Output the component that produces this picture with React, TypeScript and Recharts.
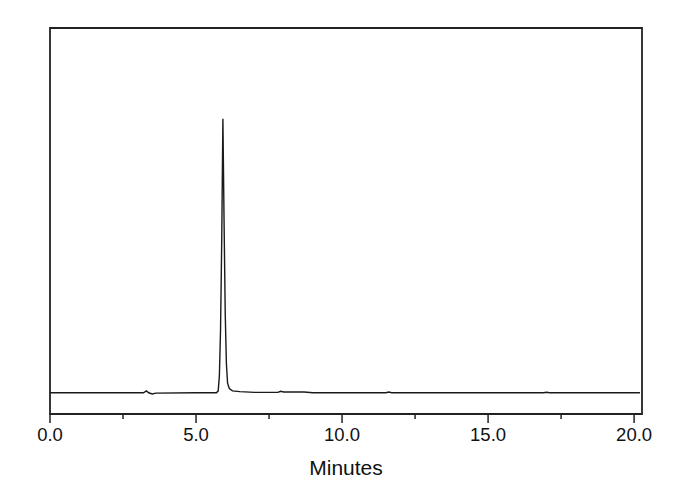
import { Line, LineChart, ReferenceArea, XAxis, YAxis } from "recharts";

// retention time (min) and detector signal (arbitrary units)
const times = [
  0.0, 1.5, 3.2, 3.3, 3.38, 3.5, 3.62, 5.0, 5.7, 5.76, 5.8, 5.84, 5.88, 5.92,
  5.96, 6.0, 6.04, 6.08, 6.14, 6.25, 6.5, 7.0, 7.8, 7.9, 8.0, 8.7, 9.0, 11.5,
  11.6, 11.7, 16.9, 17.0, 17.1, 20.2,
];
const signal = [
  5.5, 5.5, 5.5, 6.0, 5.5, 5.2, 5.4, 5.5, 5.5, 6.0, 10, 22, 45, 76.5, 50, 26,
  13, 8, 6.6, 6.0, 5.8, 5.6, 5.6, 5.9, 5.7, 5.7, 5.5, 5.5, 5.7, 5.5, 5.5,
  5.65, 5.5, 5.5,
];
const tickValues = [0, 2.5, 5, 7.5, 10, 12.5, 15, 17.5, 20];

const data = times.map((t, i) => ({ t, v: signal[i] }));
const X_MAX = 20.27;
const FONT = "Liberation Sans, Arial, sans-serif";

function MinuteTick({ x, y, payload }: { x?: number; y?: number; payload?: { value: number } }) {
  const value = payload?.value ?? 0;
  const major = value % 5 === 0;
  return (
    <g>
      <line x1={x} x2={x} y1={y} y2={(y ?? 0) + (major ? 9 : 5)} stroke="#222" strokeWidth={1.5} />
      {major && (
        <text x={x} y={(y ?? 0) + 27} textAnchor="middle" fontSize={18.5} fill="#111" fontFamily={FONT}>
          {value.toFixed(1)}
        </text>
      )}
    </g>
  );
}

export default function App() {
  return (
    <div style={{ position: "absolute", left: 0, top: 0, background: "#fff" }}>
      <LineChart width={690} height={490} data={data} margin={{ top: 28, right: 48, bottom: 0, left: 50 }}>
        <XAxis
          dataKey="t"
          type="number"
          domain={[0, X_MAX]}
          ticks={tickValues}
          tick={<MinuteTick />}
          tickLine={false}
          tickSize={0}
          tickMargin={0}
          height={76}
          axisLine={{ stroke: "#222", strokeWidth: 1.8 }}
          interval={0}
          label={{ value: "Minutes", position: "insideBottom", offset: 15, fontSize: 21, fill: "#111", fontFamily: FONT }}
        />
        <YAxis domain={[0, 100]} hide />
        <ReferenceArea x1={0} x2={X_MAX} y1={0} y2={100} fill="none" stroke="#222" strokeWidth={1.8} ifOverflow="extendDomain" />
        <Line dataKey="v" type="linear" stroke="#1a1a1a" strokeWidth={1.4} dot={false} isAnimationActive={false} />
      </LineChart>
    </div>
  );
}
